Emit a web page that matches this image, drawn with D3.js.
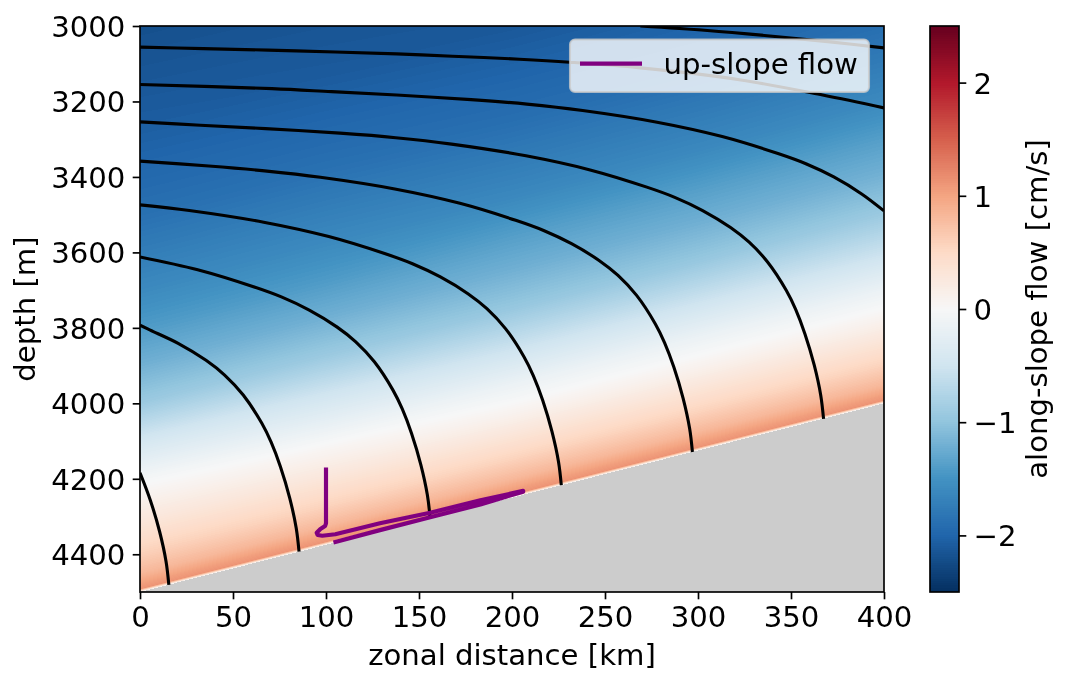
<!DOCTYPE html>
<html lang="en">
<head>
<meta charset="UTF-8">
<title>along-slope flow</title>
<style>
    html,body { margin:0; padding:0; background:#fff; }
    #wrap { position:relative; width:1067px; height:686px; overflow:hidden; }
    canvas { position:absolute; left:0; top:0; }
    svg { position:absolute; left:0; top:0; }
    text { font-family:"DejaVu Sans"; fill:#000; }
</style>
<script src="https://cdn.jsdelivr.net/npm/d3@7/dist/d3.min.js"></script>
</head>
<body>
<div id="wrap"><canvas id="field" width="1067" height="686"></canvas><svg width="1067" height="686"></svg></div>
<script>
// ticks
const xTicks = [0,50,100,150,200,250,300,350,400]
const depthTicks = [3000,3200,3400,3600,3800,4000,4200,4400]
const cbarTicks = [-2,-1,0,1,2]
const rdbuStops = ["#053061","#2166ac","#4393c3","#92c5de","#d1e5f0","#f7f7f7","#fddbc7","#f4a582","#d6604d","#b2182b","#67001f"]
const rdbuValues = [-2.5,-2,-1.5,-1,-0.5,0,0.5,1,1.5,2,2.5]

// sloping bottom
const bottomX = [0,400]
const bottomDepth = [4500,4000]

// along-slope flow, height above bottom [m] vs zonal distance [km]
const fieldX = [0,100,200,300,400]
const fieldH = [0,8,20,50,100,150,200,250,300,400,500,600,700,800,1000,1250,1500]
const flow0   = [0,1.12,1.05,0.82,0.60,0.42,0.25,0.10,-0.05,-0.45,-0.92,-1.20,-1.42,-1.60,-1.88,-2.08,-2.20]
const flow100 = [0,1.12,1.05,0.82,0.58,0.40,0.22,0.06,-0.12,-0.50,-0.92,-1.20,-1.42,-1.60,-1.88,-2.10,-2.20]
const flow200 = [0,1.12,1.05,0.82,0.58,0.38,0.18,0.00,-0.15,-0.55,-0.95,-1.20,-1.40,-1.62,-1.90,-2.12,-2.20]
const flow300 = [0,1.12,1.05,0.82,0.58,0.38,0.18,0.00,-0.15,-0.55,-0.95,-1.20,-1.40,-1.62,-1.90,-2.12,-2.20]
const flow400 = [0,1.12,1.05,0.82,0.58,0.38,0.18,0.00,-0.15,-0.55,-0.92,-1.18,-1.38,-1.60,-1.90,-2.12,-2.20]

// isopycnals, distance [km] / depth [m]
const isoX = [
    [15.5,14,10.5,5.5,0],
    [85.5,84,80.5,75.5,70.5,65.5,55.5,45.5,35.5,20.5,5.5,0],
    [156,154.5,151,146,141,136,126,116,106,91,76,61,31,0],
    [226.5,225,221.5,216.5,211.5,206.5,196.5,186.5,176.5,161.5,146.5,131.5,101.5,66.5,26.5,0],
    [297,295.5,292,287,282,277,267,257,247,232,217,202,172,137,97,67,37,0],
    [367.5,366,362.5,357.5,352.5,347.5,337.5,327.5,317.5,302.5,287.5,272.5,242.5,207.5,167.5,137.5,107.5,67.5,32.5,0],
    [400,388,373,358,343,313,278,238,208,178,138,103,71,0],
    [400,367,323,269,231,204,168,138,105,69,34,0],
    [400,371,340,305,269]
]
const isoDepth = [
    [4481,4419,4339,4256,4184],
    [4393,4331,4251,4168,4103,4053,3978,3925,3886,3841,3806,3793],
    [4305,4243,4163,4080,4015,3965,3890,3837,3798,3753,3718,3691,3646,3612],
    [4217,4155,4075,3992,3927,3877,3802,3749,3710,3665,3630,3603,3558,3520,3489,3474],
    [4129,4067,3987,3904,3839,3789,3714,3661,3622,3577,3542,3515,3470,3432,3401,3384,3371,3358],
    [4041,3979,3899,3816,3751,3701,3626,3573,3534,3489,3454,3427,3382,3344,3313,3296,3284,3272,3263,3254],
    [3490,3445,3400,3365,3338,3293,3255,3224,3207,3195,3183,3174,3166,3155],
    [3217,3183,3143,3111,3096,3088,3080,3074,3069,3064,3060,3056],
    [3058,3042,3027,3012,3000]
]

// up-slope flow path
const upslopeX = [100,100,99.5,97,95,95.5,98,105,129,156,183,206,206,183,156,129,104]
const upslopeDepth = [4170,4318,4325,4333,4343,4349,4351,4347,4318,4290,4257,4232,4234,4268,4302,4336,4369]

const fs = 29.17
const tickLen = 7.3
const spineW = 1.67

const margin = {left:140,right:884,top:26,bottom:592}
const x = d3.scaleLinear().domain([0,400]).range([margin.left,margin.right])
const y = d3.scaleLinear().domain([3000,4500]).range([margin.top,margin.bottom])
const cbarY = d3.scaleLinear().domain([-2.5,2.5]).range([margin.bottom,margin.top])
const cbarL = 930, cbarR = 959

const rdbu = d3.scaleLinear().domain(rdbuValues).range(rdbuStops).interpolate(d3.interpolateRgb).clamp(true)
// 256 level lookup as the colormap has
const lut = d3.range(256).map(i => d3.rgb(rdbu(-2.5 + 5*i/255)))
const lutIndex = v => Math.max(0,Math.min(255,Math.floor((v+2.5)/5*256)))

const bottomAt = d3.scaleLinear().domain(bottomX).range(bottomDepth)
const columns = [flow0,flow100,flow200,flow300,flow400].map(c => d3.scaleLinear().domain(fieldH).range(c).clamp(true))

// field picture
const ctx = document.getElementById('field').getContext('2d')
const W = margin.right-margin.left, H = margin.bottom-margin.top
const img = ctx.createImageData(W,H)
for (let j=0;j<H;j++) {
    const dep = y.invert(margin.top+j+0.5)
    for (let i=0;i<W;i++) {
        const km = x.invert(margin.left+i+0.5)
        const h = bottomAt(km)-dep
        let r=204,g=204,b=204
        if (h>=0) {
            const k = Math.min(fieldX.length-2,d3.bisectRight(fieldX,km)-1)
            const t = (km-fieldX[k])/(fieldX[k+1]-fieldX[k])
            const c = lut[lutIndex(columns[k](h)*(1-t)+columns[k+1](h)*t)]
            r=c.r;g=c.g;b=c.b
        }
        const p = (j*W+i)*4
        img.data[p]=r;img.data[p+1]=g;img.data[p+2]=b;img.data[p+3]=255
    }
}
ctx.putImageData(img,margin.left,margin.top)

// colorbar
d3.range(cbarY.range()[1],cbarY.range()[0]).forEach(py => {
    ctx.fillStyle = lut[lutIndex(cbarY.invert(py+0.5))].formatHex()
    ctx.fillRect(cbarL,py,cbarR-cbarL,1)
})

const svg = d3.select('svg')
svg.append('clipPath').attr('id','plotClip').append('rect')
    .attr('x',margin.left).attr('y',margin.top).attr('width',W).attr('height',H)

const line = d3.line().x(d=>x(d[0])).y(d=>y(d[1]))

const isoGrp = svg.append('g').attr('clip-path','url(#plotClip)').attr('fill','none')
isoGrp.selectAll('path').data(isoX.map((xs,i)=>d3.zip(xs,isoDepth[i])))
    .enter().append('path')
    .attr('d',line.curve(d3.curveCatmullRom.alpha(0.5)))
    .attr('stroke','#000').attr('stroke-width',3.1)

svg.append('path').datum(d3.zip(upslopeX,upslopeDepth))
    .attr('d',d3.line().x(d=>x(d[0])).y(d=>y(d[1])).curve(d3.curveLinear))
    .attr('fill','none').attr('stroke','purple').attr('stroke-width',4.17)
    .attr('stroke-linejoin','round')

// axes
const styleAxis = (g,dy) => {
    g.select('.domain').remove()
    g.selectAll('line').attr('stroke','#000').attr('stroke-width',spineW)
    g.selectAll('text').attr('font-size',fs).attr('font-family','DejaVu Sans').attr('dy',dy).attr('fill','#000')
}
svg.append('g').attr('transform',`translate(0,${margin.bottom})`)
    .call(d3.axisBottom(x).tickValues(xTicks).tickFormat(d3.format('d')).tickSize(tickLen).tickPadding(tickLen))
    .call(g=>styleAxis(g,'0.71em'))
svg.append('g').attr('transform',`translate(${margin.left},0)`)
    .call(d3.axisLeft(y).tickValues(depthTicks).tickFormat(d3.format('d')).tickSize(tickLen).tickPadding(tickLen))
    .call(g=>styleAxis(g,'0.36em'))
svg.append('g').attr('transform',`translate(${cbarR},0)`)
    .call(d3.axisRight(cbarY).tickValues(cbarTicks).tickFormat(d3.format('d')).tickSize(tickLen).tickPadding(tickLen))
    .call(g=>styleAxis(g,'0.36em'))

svg.append('rect').attr('x',margin.left).attr('y',margin.top).attr('width',W).attr('height',H)
    .attr('fill','none').attr('stroke','#000').attr('stroke-width',spineW)
svg.append('rect').attr('x',cbarL).attr('y',margin.top).attr('width',cbarR-cbarL).attr('height',H)
    .attr('fill','none').attr('stroke','#000').attr('stroke-width',spineW)

// labels
svg.append('text').attr('x',512).attr('y',665).attr('text-anchor','middle').attr('font-size',fs).text('zonal distance [km]')
svg.append('text').attr('transform','translate(35,309) rotate(-90)').attr('text-anchor','middle').attr('font-size',fs).text('depth [m]')
svg.append('text').attr('transform','translate(1047,309) rotate(-90)').attr('text-anchor','middle').attr('font-size',fs).text('along-slope flow [cm/s]')

// legend
const legend = svg.append('g')
legend.append('rect').attr('x',570).attr('y',39.5).attr('width',299).attr('height',52.5).attr('rx',5)
    .attr('fill','#fff').attr('fill-opacity',0.8).attr('stroke','#ccc').attr('stroke-opacity',0.8).attr('stroke-width',2.08)
legend.append('line').attr('x1',580).attr('x2',642).attr('y1',63.7).attr('y2',63.7)
    .attr('stroke','purple').attr('stroke-width',4.17)
legend.append('text').attr('x',663.5).attr('y',73.5).attr('font-size',fs).text('up-slope flow')
</script>
</body>
</html>
